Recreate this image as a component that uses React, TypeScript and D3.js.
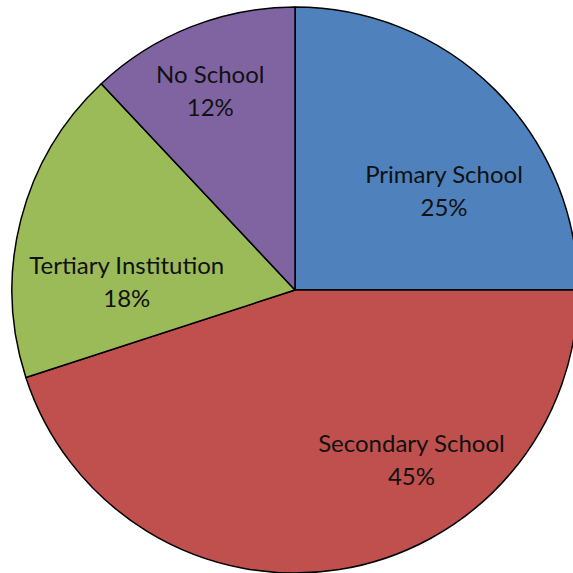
import React from "react";
import * as d3 from "d3";

const categories = ["Primary School", "Secondary School", "Tertiary Institution", "No School"];
const values = [25, 45, 18, 12];
const colors = ["#4F81BD", "#C0504D", "#9BBB59", "#8064A2"];
// label placement (angle in degrees from 12 o'clock, distance as fraction of radius)
const labelAngles = [56.7, 145.7, 272.4, 336.8];
const labelRadii = [0.63, 0.73, 0.595, 0.76];

const W = 573;
const H = 573;
const cx = 295;
const cy = 290;
const R = 283;

export default function App() {
  const pie = d3.pie<number>().sort(null).value((d) => d)(values);
  const arc = d3.arc<d3.PieArcDatum<number>>().innerRadius(0).outerRadius(R);
  return (
    <svg width={W} height={H} style={{ position: "absolute", left: 0, top: 0, background: "#fff" }}>
      <g transform={`translate(${cx},${cy})`}>
        {pie.map((p, i) => (
          <path key={i} d={arc(p) || ""} fill={colors[i]} stroke="#000" strokeWidth={1.5} strokeLinejoin="round" />
        ))}
        {pie.map((p, i) => {
          const a = (labelAngles[i] * Math.PI) / 180;
          const x = Math.sin(a) * R * labelRadii[i];
          const y = -Math.cos(a) * R * labelRadii[i];
          return (
            <text key={i} x={x} y={y} textAnchor="middle" fontFamily="Lato, 'Open Sans', sans-serif" fontSize={24} fill="#111">
              <tspan x={x} dy={-9}>{categories[i]}</tspan>
              <tspan x={x} dy={33}>{`${values[i]}%`}</tspan>
            </text>
          );
        })}
      </g>
    </svg>
  );
}
